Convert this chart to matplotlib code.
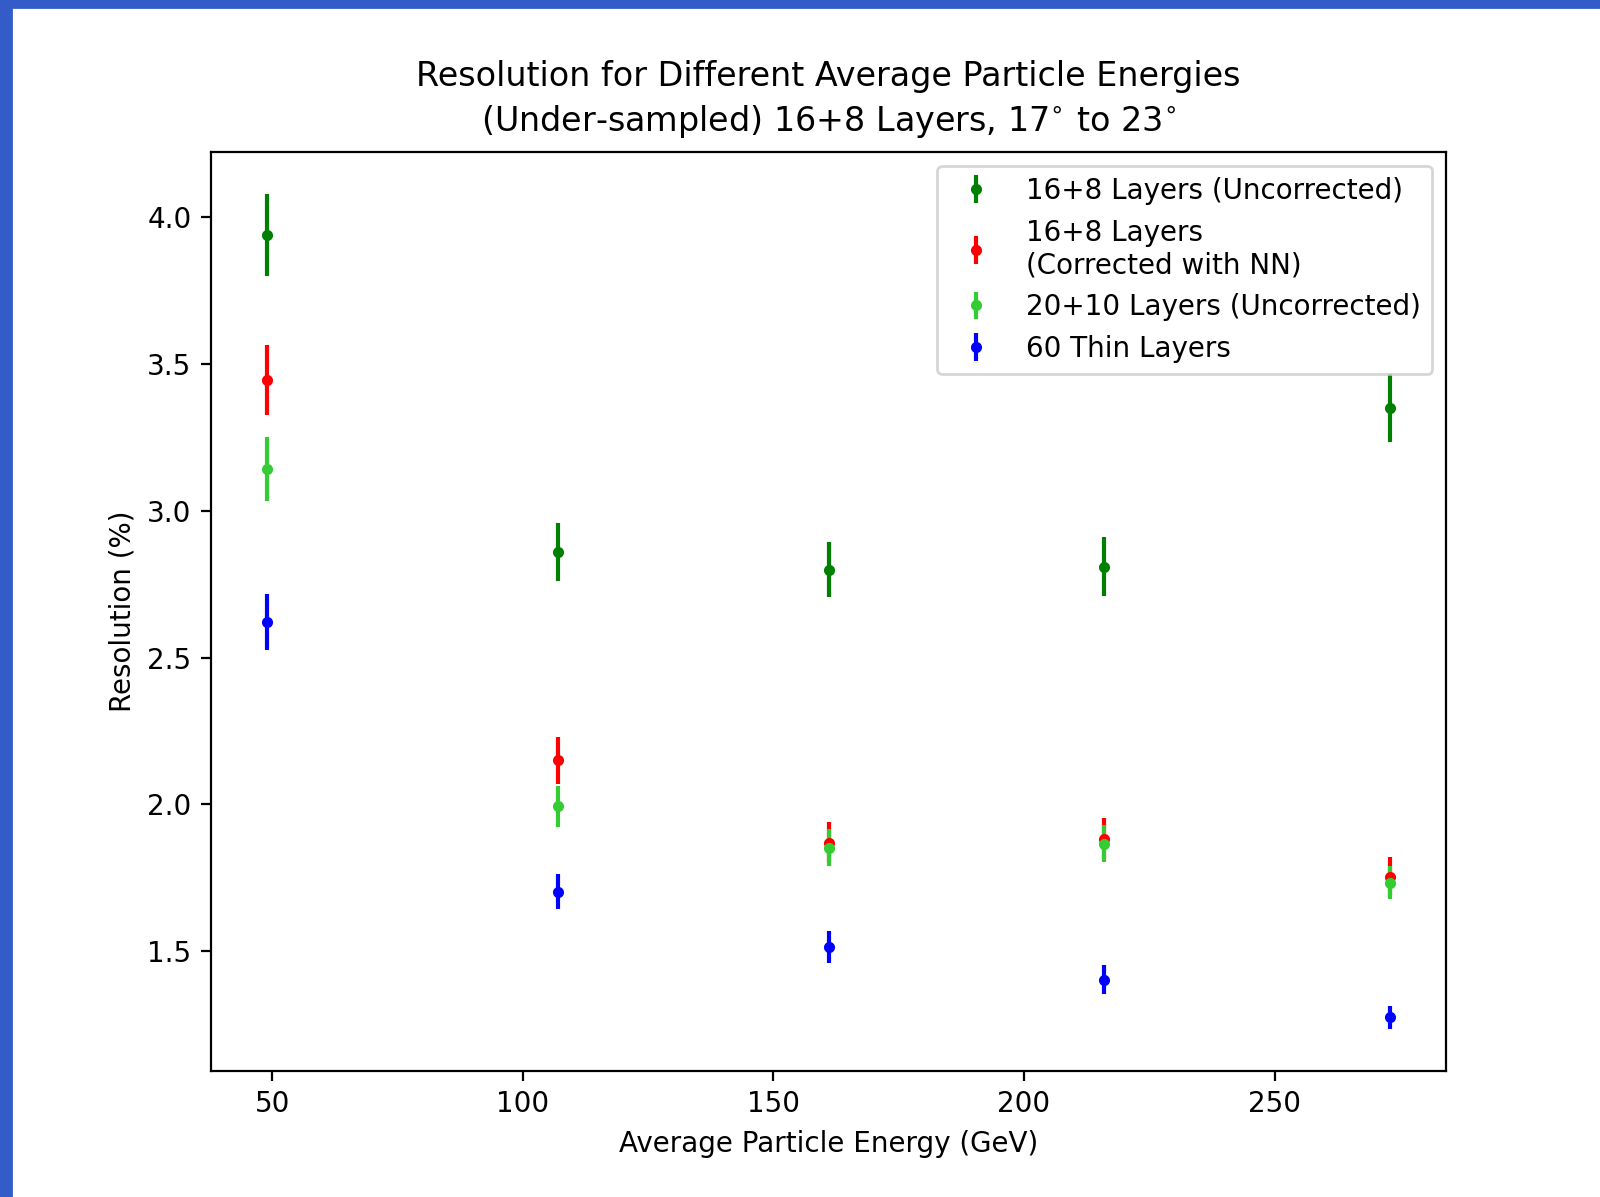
import numpy as np
import matplotlib.pyplot as plt
from matplotlib.patches import Rectangle

# Энергии частиц (ГэВ)
energy = [49, 107, 161, 216, 273]

# Разрешение (%) и ошибки
res_16_8 = [3.94, 2.86, 2.80, 2.81, 3.35]
err_16_8 = [0.14, 0.10, 0.095, 0.10, 0.115]

res_16_8_nn = [3.445, 2.15, 1.87, 1.883, 1.754]
err_16_8_nn = [0.12, 0.08, 0.07, 0.07, 0.065]

res_20_10 = [3.143, 1.994, 1.852, 1.866, 1.733]
err_20_10 = [0.11, 0.07, 0.063, 0.064, 0.056]

res_60 = [2.621, 1.702, 1.514, 1.403, 1.274]
err_60 = [0.095, 0.06, 0.056, 0.05, 0.04]

fig = plt.figure(figsize=(8, 5.985), dpi=200)

# Синяя рамка слева и сверху
fig.patches.append(Rectangle((0, 0), 11 / 1600, 1, transform=fig.transFigure,
                             color='#335cc8', zorder=10))
fig.patches.append(Rectangle((0, 1 - 7 / 1197), 1, 7 / 1197, transform=fig.transFigure,
                             color='#335cc8', zorder=10))

ax = fig.add_axes([211 / 1600, 1 - 1071 / 1197, 1235 / 1600, 919 / 1197])

ax.errorbar(energy, res_16_8, yerr=err_16_8, fmt='.', color='g',
            label='16+8 Layers (Uncorrected)')
ax.errorbar(energy, res_16_8_nn, yerr=err_16_8_nn, fmt='.', color='r',
            label='16+8 Layers\n(Corrected with NN)')
ax.errorbar(energy, res_20_10, yerr=err_20_10, fmt='.', color='#33cc33',
            label='20+10 Layers (Uncorrected)')
ax.errorbar(energy, res_60, yerr=err_60, fmt='.', color='b',
            label='60 Thin Layers')

ax.set_title('Resolution for Different Average Particle Energies\n'
             '(Under-sampled) 16+8 Layers, $17^{\\circ}$ to $23^{\\circ}$',
             linespacing=1.38, pad=7.5)
ax.set_xlabel('Average Particle Energy (GeV)')
ax.set_ylabel('Resolution (%)')
ax.legend(loc='upper right')

fig.savefig('out.png', dpi=200)
